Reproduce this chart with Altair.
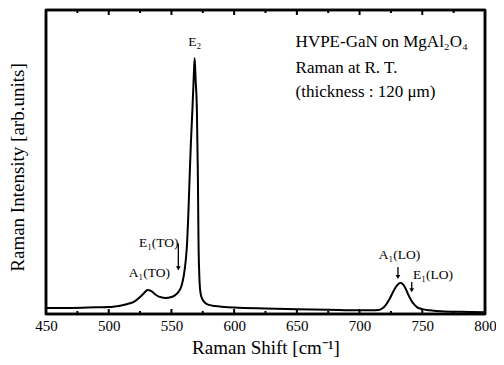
import altair as alt
import pandas as pd

# Spectrum
shift = [450, 470, 490, 500, 505, 510, 515, 520, 525, 528, 531, 534, 537, 540, 545, 550, 553, 556, 558, 560,
         561.5, 562.5, 563.5, 564.5, 565.5, 566.7, 567.7, 568.5, 569.3, 570.3, 571.1, 571.6, 572.2, 573, 574, 575,
         577, 580, 585, 590, 600, 625, 650, 675, 700, 710, 715, 718, 721, 724, 727, 730, 732.7, 735, 737, 739,
         741, 743, 746, 750, 756, 765, 780, 800]
intensity = [0.020, 0.020, 0.022, 0.023, 0.025, 0.028, 0.033, 0.040, 0.056, 0.068, 0.079, 0.075, 0.065, 0.057,
             0.053, 0.056, 0.062, 0.075, 0.092, 0.130, 0.18, 0.234, 0.33, 0.45, 0.56, 0.67, 0.77, 0.842, 0.77,
             0.67, 0.45, 0.234, 0.13, 0.075, 0.055, 0.046, 0.036, 0.030, 0.026, 0.024, 0.021, 0.018, 0.016,
             0.014, 0.012, 0.012, 0.013, 0.018, 0.030, 0.050, 0.075, 0.095, 0.103, 0.096, 0.081, 0.062, 0.046,
             0.034, 0.022, 0.016, 0.012, 0.009, 0.007, 0.006]

major_ticks = [450, 500, 550, 600, 650, 700, 750, 800]
minor_ticks = [475, 525, 575, 625, 675, 725, 775]

# Peak labels
peak_labels = ["E₂", "E₁(TO)", "A₁(TO)", "A₁(LO)", "E₁(LO)"]
peak_x = [568.5, 539.9, 532.4, 731.8, 758.5]
peak_y = [0.895, 0.234, 0.135, 0.194, 0.128]

# Arrows
arrow_x = [555.5, 730.6, 741.6]
arrow_top = [0.232, 0.155, 0.105]
arrow_bottom = [0.150, 0.122, 0.078]

# Info text
info_lines = ["HVPE-GaN on MgAl₂O₄", "Raman at R. T.", "(thickness : 120 μm)"]
info_x = [649.0, 649.0, 649.0]
info_y = [0.895, 0.809, 0.730]

# Frame
frame_x = [450, 800]
frame_y = [0, 1]

FONT = "Liberation Serif"
W, H = 439, 304

spec_df = pd.DataFrame({"shift": shift, "intensity": intensity})
xs = alt.Scale(domain=[450, 800], nice=False)
ys = alt.Scale(domain=[0, 1], nice=False)

line = alt.Chart(spec_df).mark_line(color="black", strokeWidth=2, interpolate="monotone").encode(
    x=alt.X("shift:Q", scale=xs,
            axis=alt.Axis(title="Raman Shift [cm⁻¹]", values=major_ticks, format="d", ticks=False,
                          domain=False, grid=False, labelFont=FONT, labelFontSize=15, labelColor="black",
                          labelPadding=4, titleFont=FONT, titleFontSize=19, titleFontWeight="normal",
                          titleColor="black", titlePadding=5, labelFlush=False)),
    y=alt.Y("intensity:Q", scale=ys,
            axis=alt.Axis(title="Raman Intensity [arb.units]", labels=False, ticks=False, domain=False,
                          grid=False, titleFont=FONT, titleFontSize=19, titleFontWeight="normal",
                          titleColor="black", titlePadding=19, titleY=157)),
)

maj_df = pd.DataFrame({"t": major_ticks})
min_df = pd.DataFrame({"t": minor_ticks})

def tick_layer(df, y0, y1):
    return alt.Chart(df).mark_rule(color="black", strokeWidth=2).encode(
        x=alt.X("t:Q", scale=xs), y=alt.value(y0), y2=alt.value(y1))

ticks = (tick_layer(maj_df, H, H - 5) + tick_layer(maj_df, 0, 5)
         + tick_layer(min_df, H, H - 3) + tick_layer(min_df, 0, 3))

fx_df = pd.DataFrame({"x": frame_x})
fy_df = pd.DataFrame({"y": frame_y})
frame_v = alt.Chart(fx_df).mark_rule(color="black", strokeWidth=2.5).encode(
    x=alt.X("x:Q", scale=xs), y=alt.value(0), y2=alt.value(H))
frame_h = alt.Chart(fy_df).mark_rule(color="black", strokeWidth=2.5).encode(
    y=alt.Y("y:Q", scale=ys), x=alt.value(0), x2=alt.value(W))

lab_df = pd.DataFrame({"label": peak_labels, "x": peak_x, "y": peak_y})
labels = alt.Chart(lab_df).mark_text(font=FONT, fontSize=13.5, color="black").encode(
    x=alt.X("x:Q", scale=xs), y=alt.Y("y:Q", scale=ys), text="label:N")

arr_df = pd.DataFrame({"x": arrow_x, "y1": arrow_top, "y2": arrow_bottom})
arrows = alt.Chart(arr_df).mark_rule(color="black", strokeWidth=1.3).encode(
    x=alt.X("x:Q", scale=xs), y=alt.Y("y1:Q", scale=ys), y2="y2:Q")
heads = alt.Chart(arr_df).mark_point(shape="triangle-down", filled=True, color="black", size=22, opacity=1).encode(
    x=alt.X("x:Q", scale=xs), y=alt.Y("y2:Q", scale=ys))

info_df = pd.DataFrame({"t": info_lines, "x": info_x, "y": info_y})
info = alt.Chart(info_df).mark_text(font=FONT, fontSize=17, color="black", align="left").encode(
    x=alt.X("x:Q", scale=xs), y=alt.Y("y:Q", scale=ys), text="t:N")

chart = (line + ticks + frame_v + frame_h + labels + arrows + heads + info).properties(
    width=W, height=H,
    autosize=alt.AutoSizeParams(type="none"),
    padding={"left": 38, "top": 2, "right": 11, "bottom": 43},
    background="white",
).configure_view(stroke="black", strokeWidth=2.5)

chart.save("out.html", embed_options={"renderer": "svg", "actions": False})
